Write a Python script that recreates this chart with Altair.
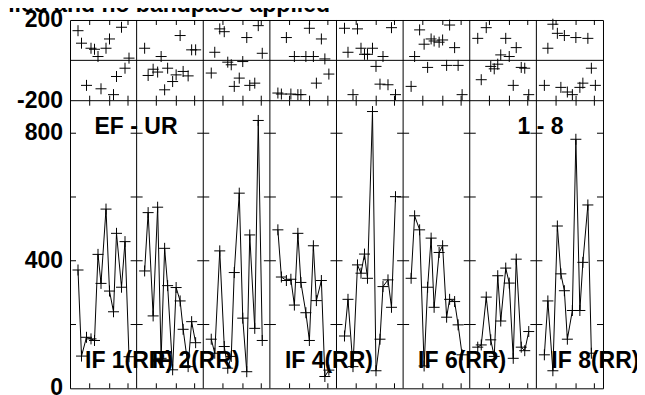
import altair as alt
import pandas as pd

TITLE = "Calibration applied and no bandpass applied"
BASELINE_TEXT = "EF - UR"
IF_RANGE_TEXT = "1 - 8"
IF_NUMBERS = [1, 2, 3, 4, 5, 6, 7, 8]
IF_LABELS = ["IF 1(RR)", "IF 2(RR)", "IF 4(RR)", "IF 6(RR)", "IF 8(RR)"]
IF_LABEL_PANELS = [1, 2, 4, 6, 8]

# time of each sample within a panel (arbitrary time units, panel spans 0..PANEL_SPAN)
TIMES = [8, 11.5, 16.5, 21, 24.5, 28, 31, 36, 39.5, 43.5, 46.5, 51.5, 55, 59]
PANEL_SPAN = 66.625
X_TICKS = [19.7, 39.7, 58]

AMP_IF1 = [371, 101, 160, 155, 150, 420, 329, 562, 305, 240, 486, 317, 460, 99]
AMP_IF2 = [368, 551, 227, 568, 94, 439, 322, 58, 316, 274, 185, 68, 209, 143]
AMP_IF3 = [154, 110, 431, 131, 63, 100, 363, 612, 220, 52, 481, 188, 840, 150]
AMP_IF4 = [497, 349, 338, 342, 261, 486, 332, 237, 150, 447, 275, 338, 37, 57]
AMP_IF5 = [164, 279, 68, 387, 361, 421, 345, 868, 55, 154, 319, 340, 254, 601]
AMP_IF6 = [345, 541, 497, 70, 317, 471, 254, 426, 447, 223, 279, 272, 199, 105]
AMP_IF7 = [129, 136, 286, 152, 100, 353, 211, 377, 330, 94, 405, 129, 118, 178]
AMP_IF8 = [105, 274, 55, 509, 359, 306, 154, 244, 781, 244, 395, 575, 110, None]

PHASE_IF1 = [147, 85, -124, 60, 55, 19, -141, 60, 106, -170, -80, 164, -39, 11]
PHASE_IF2 = [60, -75, -44, -58, 19, -146, -39, -105, -72, 123, -55, -77, 52, 52]
PHASE_IF3 = [-63, 40, 156, 142, -9, -22, -129, -88, -6, 113, -124, -113, 172, 35]
PHASE_IF4 = [-162, -167, 113, -167, 19, -170, -170, 19, 159, 19, -113, 106, 7, -68]
PHASE_IF5 = [159, 40, -170, 156, 60, 30, 30, 60, -30, -118, 19, -121, 162, -170]
PHASE_IF6 = [-129, 19, 151, 80, -35, 106, 96, 90, 101, -25, 175, 63, -25, -170]
PHASE_IF7 = [109, -96, 162, -30, -42, -19, 27, 109, 19, -124, 63, -35, -39, -170]
PHASE_IF8 = [-124, 60, 179, 134, -134, 123, -157, -170, 113, -134, -113, 109, -39, -124]

AMP_TICKS = [200, 400, 600, 800]
AMP_LABELS = [800, 400, 0]
PHASE_LABELS = [200, -200]
AMP_MAX = 902
PHASE_MAX = 200

AMPS = [AMP_IF1, AMP_IF2, AMP_IF3, AMP_IF4, AMP_IF5, AMP_IF6, AMP_IF7, AMP_IF8]
PHASES = [PHASE_IF1, PHASE_IF2, PHASE_IF3, PHASE_IF4, PHASE_IF5, PHASE_IF6, PHASE_IF7, PHASE_IF8]

rows = []
for i, (amps, phs) in enumerate(zip(AMPS, PHASES)):
    for t, a, p in zip(TIMES, amps, phs):
        rows.append({"ifnum": IF_NUMBERS[i], "panel": i, "t": t, "amp": a, "phase": p})
df = pd.DataFrame(rows)

NP = len(IF_NUMBERS)
W = 533
H_PH = 80.7
H = 368.3
FONT = "Liberation Sans"
FS = 23
CROSS = "M-1,0L1,0M0,-1L0,1"

xscale = alt.Scale(domain=[0, NP * PANEL_SPAN], nice=False, zero=False)
ph_scale = alt.Scale(domain=[-PHASE_MAX, PHASE_MAX], range=[H_PH, 0], nice=False, zero=False)
amp_scale = alt.Scale(domain=[0, AMP_MAX], range=[H, H_PH], nice=False, zero=False)


def X(field="gx"):
    return alt.X(f"{field}:Q", scale=xscale, axis=None)


gx_expr = f"datum.panel * {PANEL_SPAN} + datum.t"
base = alt.Chart(df).transform_calculate(gx=gx_expr)

phase_pts = base.mark_point(shape=CROSS, size=121, filled=False, stroke="black",
                            strokeWidth=1, opacity=1).encode(
    x=X(), y=alt.Y("phase:Q", scale=ph_scale, axis=None))

amp_line = base.mark_line(color="black", strokeWidth=1).encode(
    x=X(), y=alt.Y("amp:Q", scale=amp_scale, axis=None), detail="ifnum:N")

amp_pts = base.mark_point(shape=CROSS, size=121, filled=False, stroke="black",
                          strokeWidth=1, opacity=1).encode(
    x=X(), y=alt.Y("amp:Q", scale=amp_scale, axis=None))

# panel separators
sep_df = pd.DataFrame({"panel": list(range(1, NP))})
seps = alt.Chart(sep_df).transform_calculate(gx=f"datum.panel * {PANEL_SPAN}").mark_rule(
    color="black", strokeWidth=1).encode(x=X(), y=alt.value(0), y2=alt.value(H))

hl_df = pd.DataFrame({"v": [0, -PHASE_MAX]})
hlines = alt.Chart(hl_df).mark_rule(color="black", strokeWidth=1).encode(
    y=alt.Y("v:Q", scale=ph_scale, axis=None), x=alt.value(0), x2=alt.value(W))

# x ticks along panel edges
xt_df = pd.DataFrame([{"panel": p, "t": t} for p in range(NP) for t in X_TICKS])


def xticks(edge, scale, d):
    return alt.Chart(xt_df).transform_calculate(gx=gx_expr, e=str(edge)).mark_rule(
        color="black", strokeWidth=1, y2Offset=d).encode(
        x=X(), y=alt.Y("e:Q", scale=scale, axis=None), y2="e:Q")


# amplitude y ticks on each panel side
yt_df = pd.DataFrame([{"panel": p, "v": v} for p in range(NP) for v in AMP_TICKS])


def yticks(side, d):
    return alt.Chart(yt_df).transform_calculate(
        gx=f"(datum.panel + {side}) * {PANEL_SPAN}").mark_rule(
        color="black", strokeWidth=1, x2Offset=d).encode(
        x=X(), x2="gx:Q", y=alt.Y("v:Q", scale=amp_scale, axis=None))


txt = dict(font=FONT, fontSize=FS, fontWeight="bold", color="black")

ph_lab = alt.Chart(pd.DataFrame({"v": PHASE_LABELS, "lab": [str(v) for v in PHASE_LABELS]})).mark_text(
    align="right", baseline="middle", **txt).encode(
    x=alt.value(-7), y=alt.Y("v:Q", scale=ph_scale, axis=None), text="lab:N")

amp_lab = alt.Chart(pd.DataFrame({"v": AMP_LABELS, "lab": [str(v) for v in AMP_LABELS]})).mark_text(
    align="right", baseline="middle", **txt).encode(
    x=alt.value(-7), y=alt.Y("v:Q", scale=amp_scale, axis=None), text="lab:N")

if_lab = alt.Chart(pd.DataFrame({"panel": [p - 1 for p in IF_LABEL_PANELS], "lab": IF_LABELS})).transform_calculate(
    gx=f"datum.panel * {PANEL_SPAN} + 15").mark_text(
    align="left", baseline="alphabetic", **txt).encode(
    x=X(), y=alt.value(348.3), text="lab:N")

ann_df = pd.DataFrame({"lab": [BASELINE_TEXT, IF_RANGE_TEXT, TITLE]})
bl_lab = alt.Chart(ann_df).transform_filter(f"datum.lab == '{BASELINE_TEXT}'").mark_text(
    align="center", baseline="alphabetic", **txt).encode(
    x=alt.value(66), y=alt.value(114.5), text="lab:N")
rng_lab = alt.Chart(ann_df).transform_filter(f"datum.lab == '{IF_RANGE_TEXT}'").mark_text(
    align="center", baseline="alphabetic", **txt).encode(
    x=alt.value(470.5), y=alt.value(114.5), text="lab:N")
title_lab = alt.Chart(ann_df).transform_filter(f"datum.lab == '{TITLE}'").mark_text(
    align="right", baseline="alphabetic", **txt).encode(
    x=alt.value(260), y=alt.value(-7.5), text="lab:N")

chart = alt.layer(
    seps, hlines,
    xticks(PHASE_MAX, ph_scale, 5), xticks(-PHASE_MAX, ph_scale, -5),
    xticks(AMP_MAX, amp_scale, 5), xticks(0, amp_scale, -5),
    yticks(0, 6), yticks(1, -6),
    amp_line, amp_pts, phase_pts,
    ph_lab, amp_lab, if_lab, bl_lab, rng_lab, title_lab,
).resolve_scale(y="independent").properties(
    width=W, height=H,
    autosize=alt.AutoSizeParams(type="none"),
    padding={"left": 62, "top": 12, "right": 34, "bottom": 10},
    background="white",
).configure_view(stroke="black", strokeWidth=1)

chart.save("out.html", embed_options={"renderer": "svg", "actions": False})
